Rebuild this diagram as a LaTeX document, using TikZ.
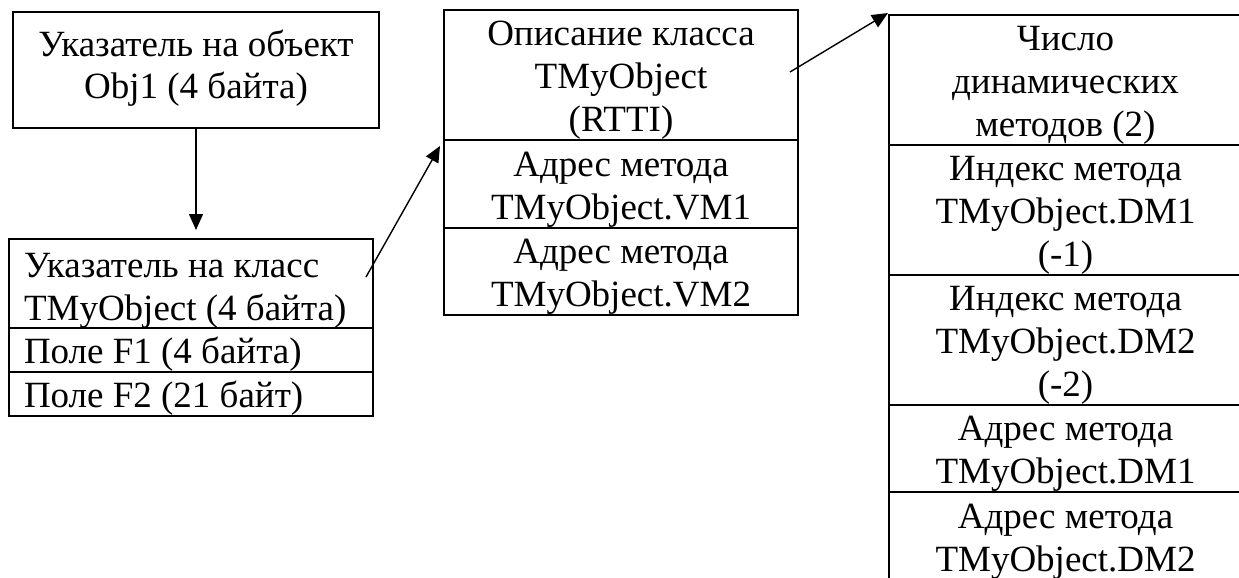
\documentclass[tikz,border=0pt]{standalone}
\usepackage{fontspec}
\setmainfont{Liberation Serif}
\usetikzlibrary{arrows.meta}
% line strut: height 35pt, depth 8pt, so lines sit 43pt apart
\newcommand\cst{\rule[-8pt]{0pt}{43pt}}
% deeper strut for the last line of the pointer box
\newcommand\cstdeep{\rule[-20pt]{0pt}{20pt}}
% slightly taller first-line strut for the class pointer cell
\newcommand\csttall{\rule[-8pt]{0pt}{46pt}}
\begin{document}
\begin{tikzpicture}[x=1pt,y=-1pt,
  cell/.style={draw, line width=1.6pt, inner xsep=0pt, inner ysep=0pt, outer sep=0pt,
    align=center, anchor=north west, font=\fontsize{37}{43}\selectfont},
  lcell/.style={cell, align=left, inner xsep=15pt, text width=334pt,
    execute at begin node={\spaceskip=0pt\xspaceskip=0pt\relax}},
  arr/.style={line width=1.4pt, -{Triangle[length=16pt,width=14pt]}}]
\path[use as bounding box] (0,0) rectangle (1239,578);
\clip (0,0) rectangle (1239,578);

% object pointer
\node[cell, minimum width=366pt, minimum height=116pt] (b1) at (13,12)
  {\cst Указатель на объект\\\cst Obj1 (4 байта)\cstdeep};

% object instance
\node[lcell, minimum height=89pt] (b2a) at (9,239)
  {\csttall Указатель на класс\\\cst TMyObject (4 байта)};
\node[lcell, minimum height=44pt] (b2b) at (9,328) {\cst Поле F1 (4 байта)};
\node[lcell, minimum height=44pt] (b2c) at (9,372) {\cst Поле F2 (21 байт)};

% virtual method table
\node[cell, minimum width=354pt, minimum height=130pt] (m1) at (444,10)
  {\cst Описание класса\\\cst TMyObject\\\cst (RTTI)};
\node[cell, minimum width=354pt, minimum height=88pt] (m2) at (444,140)
  {\cst Адрес метода\\\cst TMyObject.VM1};
\node[cell, minimum width=354pt, minimum height=87pt] (m3) at (444,228)
  {\cst Адрес метода\\\cst TMyObject.VM2};

% dynamic method table
\node[cell, minimum width=353pt, minimum height=130pt] (r1) at (889,15)
  {\cst Число\\\cst динамических\\\cst методов (2)};
\node[cell, minimum width=353pt, minimum height=130pt] (r2) at (889,145)
  {\cst Индекс метода\\\cst TMyObject.DM1\\\cst (-1)};
\node[cell, minimum width=353pt, minimum height=130pt] (r3) at (889,275)
  {\cst Индекс метода\\\cst TMyObject.DM2\\\cst (-2)};
\node[cell, minimum width=353pt, minimum height=87pt] (r4) at (889,405)
  {\cst Адрес метода\\\cst TMyObject.DM1};
\node[cell, minimum width=353pt, minimum height=88pt] (r5) at (889,492)
  {\cst Адрес метода\\\cst TMyObject.DM2};

% pointer arrows
\coordinate (a1e) at (196,230);
\coordinate (a2s) at (366,277);
\coordinate (a2e) at (440,146);
\coordinate (a3s) at (790,72);
\coordinate (a3e) at (888,13);
\draw[arr] (b1.south) -- (a1e);
\draw[arr] (a2s) -- (a2e);
\draw[arr] (a3s) -- (a3e);
\end{tikzpicture}
\end{document}
